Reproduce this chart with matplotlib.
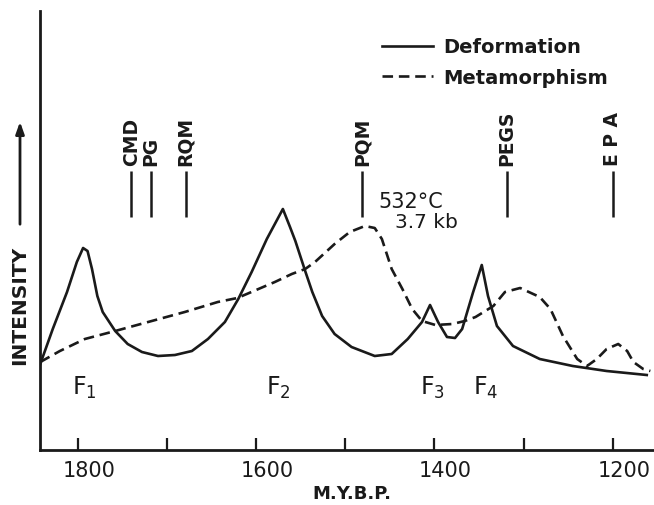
import matplotlib
matplotlib.use("Agg")
import matplotlib.pyplot as plt
import matplotlib.transforms as mtransforms

# deformation curve (age in m.y.b.p., relative intensity)
deform_age = [1842, 1828, 1812, 1801, 1794, 1789, 1784, 1778, 1772, 1758,
              1744, 1728, 1710, 1691, 1672, 1654, 1635, 1620, 1605, 1588,
              1579, 1570, 1562, 1556, 1545, 1537, 1526, 1512, 1493, 1467,
              1448, 1430, 1414, 1405, 1396, 1386, 1377, 1369, 1357, 1347,
              1340, 1330, 1312, 1282, 1245, 1207, 1162]
deform_int = [8.6, 12.1, 15.8, 18.8, 20.2, 19.9, 18.1, 15.4, 13.8, 11.9,
              10.6, 9.8, 9.4, 9.5, 9.9, 11.1, 12.8, 15.1, 17.8, 21.1,
              22.6, 24.1, 22.3, 20.9, 17.9, 15.8, 13.4, 11.6, 10.3, 9.4,
              9.6, 11.1, 12.8, 14.5, 12.8, 11.3, 11.2, 12.1, 15.7, 18.5,
              15.4, 12.4, 10.4, 9.1, 8.4, 7.9, 7.5]

# metamorphism curve
meta_age = [1842, 1820, 1792, 1758, 1717, 1680, 1643, 1621, 1579, 1560,
            1545, 1534, 1512, 1495, 1478, 1467, 1459, 1448, 1436, 1425,
            1414, 1399, 1380, 1366, 1354, 1334, 1321, 1304, 1282, 1270,
            1256, 1240, 1229, 1218, 1207, 1194, 1184, 1177, 1166, 1158]
meta_int = [8.8, 9.9, 11.1, 11.9, 12.9, 13.8, 14.8, 15.2, 16.8, 17.6,
            18.1, 18.8, 20.6, 21.8, 22.4, 22.2, 21.1, 18.1, 16.1, 14.1,
            12.9, 12.5, 12.6, 12.9, 13.3, 14.4, 15.8, 16.2, 15.3, 14.1,
            11.4, 9.1, 8.4, 9.1, 10.1, 10.6, 9.9, 8.8, 8.1, 7.9]

# dated events
event_names = ["CMD", "PG", "RQM", "PQM", "PEGS", "E P A"]
event_ages = [1740, 1718, 1679, 1481, 1319, 1200]

# deformation phases
phase_names = ["1", "2", "3", "4"]
phase_ages = [1793, 1575, 1402, 1343]

fig = plt.figure(figsize=(6.54, 5.06), dpi=100)
ax = fig.add_axes([40 / 654, 55 / 506, 614 / 654, 439 / 506])

ink = "#1a1a1a"
ax.plot(deform_age, deform_int, color=ink, lw=1.9, label="Deformation",
        solid_joinstyle="round")
ax.plot(meta_age, meta_int, color=ink, lw=1.9, dashes=(4, 2.2),
        label="Metamorphism")

ax.set_xlim(1842.3, 1153.9)
ax.set_ylim(0, 43.9)

for s in ["top", "right"]:
    ax.spines[s].set_visible(False)
for s in ["left", "bottom"]:
    ax.spines[s].set_linewidth(2)
    ax.spines[s].set_color(ink)

ax.set_yticks([])
ax.set_xticks([1800, 1600, 1400, 1200])
ax.set_xticks([1700, 1500, 1300], minor=True)
ax.tick_params(axis="x", which="both", direction="in", length=9, width=1.6,
               color=ink, pad=7, labelsize=15, labelcolor=ink)
shift = mtransforms.ScaledTranslation(8 / 72, 0, fig.dpi_scale_trans)
for lab in ax.get_xticklabels():
    lab.set_transform(lab.get_transform() + shift)

ax.set_xlabel("M.Y.B.P.", fontsize=13, fontweight="bold", color=ink)
ax.xaxis.set_label_coords((352 - 40) / 614, -0.077)

# event markers
ax.vlines(event_ages, 23.3, 27.9, color=ink, lw=1.8)
for name, age in zip(event_names, event_ages):
    ax.text(age, 28.5, name, rotation=90, ha="center", va="bottom",
            fontsize=13.5, fontweight="bold", color=ink)

ax.text(1463, 24.9, "532°C", fontsize=15, ha="left", va="center", color=ink)
ax.text(1444, 22.8, "3.7 kb", fontsize=14.5, ha="left", va="center", color=ink)

for name, age in zip(phase_names, phase_ages):
    ax.text(age, 5.6, r"$\mathregular{F_{%s}}$" % name, fontsize=17,
            ha="center", va="baseline", color=ink)

leg = ax.legend(loc="upper left", bbox_to_anchor=((382 - 40) / 614, 0.94),
                frameon=False, borderpad=0, borderaxespad=0,
                handlelength=2.6, handletextpad=0.55, labelspacing=0.6,
                prop={"size": 14, "weight": "bold"})
for t in leg.get_texts():
    t.set_color(ink)

# y axis label with arrow
fig.text(20 / 654, (506 - 305) / 506, "INTENSITY", rotation=90, ha="center",
         va="center", fontsize=14.5, fontweight="bold", color=ink)
ax.annotate("", xy=(20 / 654, (506 - 120) / 506),
            xytext=(20 / 654, (506 - 228) / 506),
            xycoords="figure fraction", textcoords="figure fraction",
            arrowprops=dict(arrowstyle="-|>,head_length=0.7,head_width=0.25",
                            color=ink, lw=2))

fig.savefig("out.png", dpi=100)
